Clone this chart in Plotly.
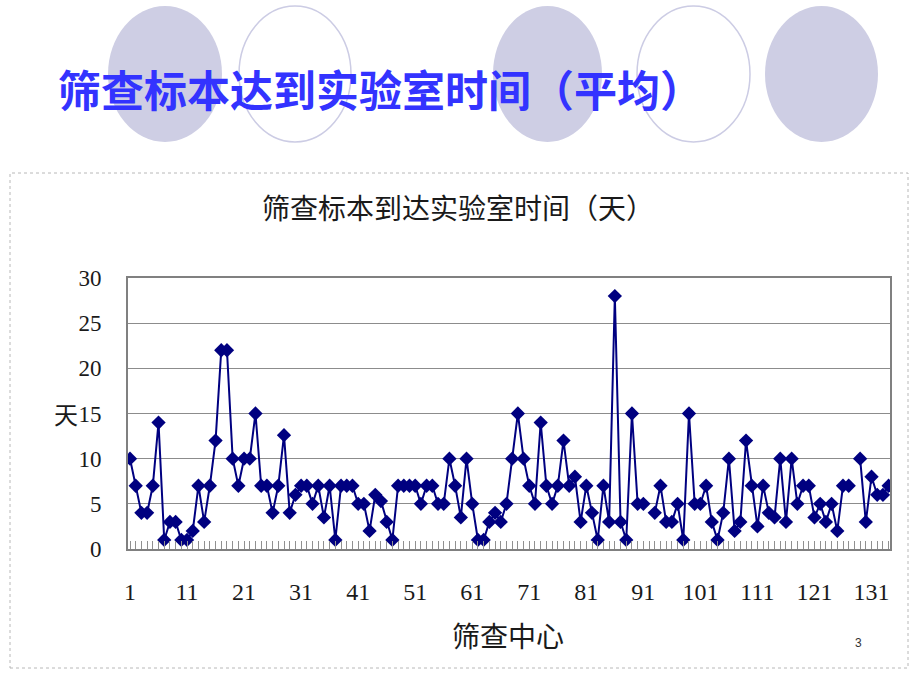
import plotly.graph_objects as go

# ---- data ----
centers = list(range(1, 135))
days = [10, 7, 4, 4, 7, 14, 1, 3, 3, 1,
        1, 2, 7, 3, 7, 12, 22, 22, 10, 7,
        10, 10, 15, 7, 7, 4, 7, 12.6, 4, 6,
        7, 7, 5, 7, 3.5, 7, 1, 7, 7, 7,
        5, 5, 2, 6, 5.3, 3, 1, 7, 7, 7,
        7, 5, 7, 7, 5, 5, 10, 7, 3.5, 10,
        5, 1, 1, 3, 4, 3, 5, 10, 15, 10,
        7, 5, 14, 7, 5, 7, 12, 7, 8, 3,
        7, 4, 1, 7, 3, 28, 3, 1, 15, 5,
        5, None, 4, 7, 3, 3, 5, 1, 15, 5,
        5, 7, 3, 1, 4, 10, 2, 3, 12, 7,
        2.5, 7, 4, 3.5, 10, 3, 10, 5, 7, 7,
        3.5, 5, 3, 5, 2, 7, 7, None, 10, 3,
        8, 6, 6, 7]
y_ticks = [0, 5, 10, 15, 20, 25, 30]
x_ticks = list(range(1, 132, 10))

slide_title = "筛查标本达到实验室时间（平均）"
chart_title = "筛查标本到达实验室时间（天）"
x_title = "筛查中心"
y_title = "天"
page_no = "3"

W, H = 920, 690
L, R, T, B = 128, 890, 278, 549  # plot area in pixels
pw, ph = R - L, B - T

def px(x):
    return (x - L) / pw

def py(y):
    return (B - y) / ph

fig = go.Figure()
fig.add_trace(go.Scatter(
    x=centers, y=days, mode="lines+markers",
    line=dict(color="#000080", width=2),
    marker=dict(symbol="diamond", size=11, color="#000080"),
    connectgaps=False, hoverinfo="skip", showlegend=False,
))

shapes = []
# decorative circles behind slide title
circ_fill = "rgb(206,206,228)"
circ_line = "rgb(204,204,228)"
for (x0, x1, filled) in [(108, 222, True), (239, 351, False), (493, 602, True),
                         (637, 750, False), (765, 878, True)]:
    shapes.append(dict(type="circle", xref="paper", yref="paper",
                       x0=px(x0), x1=px(x1), y0=py(142), y1=py(6),
                       fillcolor=circ_fill if filled else "rgba(0,0,0,0)",
                       line=dict(color=circ_line, width=0 if filled else 1.5),
                       layer="below"))
# chart frame
shapes.append(dict(type="rect", xref="paper", yref="paper",
                   x0=px(10), x1=px(908), y0=py(668), y1=py(173),
                   line=dict(color="#b8b8b8", width=1, dash="dot"),
                   fillcolor="rgba(0,0,0,0)", layer="below"))

ann = [
    dict(text="<b>" + slide_title + "</b>", x=px(56), y=py(88), xanchor="left", yanchor="middle",
         font=dict(family="Noto Sans CJK SC", size=43, color="#3333ff"),
         showarrow=False, xref="paper", yref="paper"),
    dict(text=chart_title, x=px(458), y=py(207), xanchor="center", yanchor="middle",
         font=dict(family="Noto Sans CJK SC", size=28, color="#1a1a1a"),
         showarrow=False, xref="paper", yref="paper"),
    dict(text=x_title, x=px(508), y=py(635), xanchor="center", yanchor="middle",
         font=dict(family="Noto Sans CJK SC", size=28, color="#1a1a1a"),
         showarrow=False, xref="paper", yref="paper"),
    dict(text=y_title, x=px(66), y=py(413), xanchor="center", yanchor="middle",
         font=dict(family="Noto Sans CJK SC", size=24, color="#1a1a1a"),
         showarrow=False, xref="paper", yref="paper"),
    dict(text=page_no, x=px(858), y=py(643), xanchor="center", yanchor="middle",
         font=dict(family="Liberation Sans", size=12, color="#333333"),
         showarrow=False, xref="paper", yref="paper"),
]

fig.update_layout(
    width=W, height=H,
    margin=dict(l=L, r=W - R, t=T, b=H - B, pad=0),
    paper_bgcolor="white", plot_bgcolor="white",
    shapes=shapes, annotations=ann,
    font=dict(family="Liberation Serif", color="#1a1a1a"),
)
fig.update_xaxes(
    range=[0.65, 134.24], tickmode="array", tickvals=x_ticks,
    ticktext=[str(v) for v in x_ticks],
    ticks="inside", ticklen=8, tickcolor="#909090", tickwidth=1,
    minor=dict(ticks="inside", dtick=1, tick0=1, ticklen=8, tickcolor="#909090", tickwidth=1),
    showgrid=False, zeroline=False,
    showline=True, linecolor="#808080", linewidth=2, mirror=True,
    tickfont=dict(family="Liberation Serif", size=24, color="#1a1a1a"),
    ticklabelstandoff=20,
)
fig.update_yaxes(
    range=[0, 30], tickmode="array", tickvals=y_ticks,
    ticktext=[str(v) for v in y_ticks],
    ticks="", showgrid=True, gridcolor="#8c8c8c", gridwidth=1, zeroline=False,
    showline=True, linecolor="#808080", linewidth=2, mirror=True,
    tickfont=dict(family="Liberation Serif", size=23, color="#1a1a1a"),
    ticklabelstandoff=20,
)

fig.write_html("out.html")
